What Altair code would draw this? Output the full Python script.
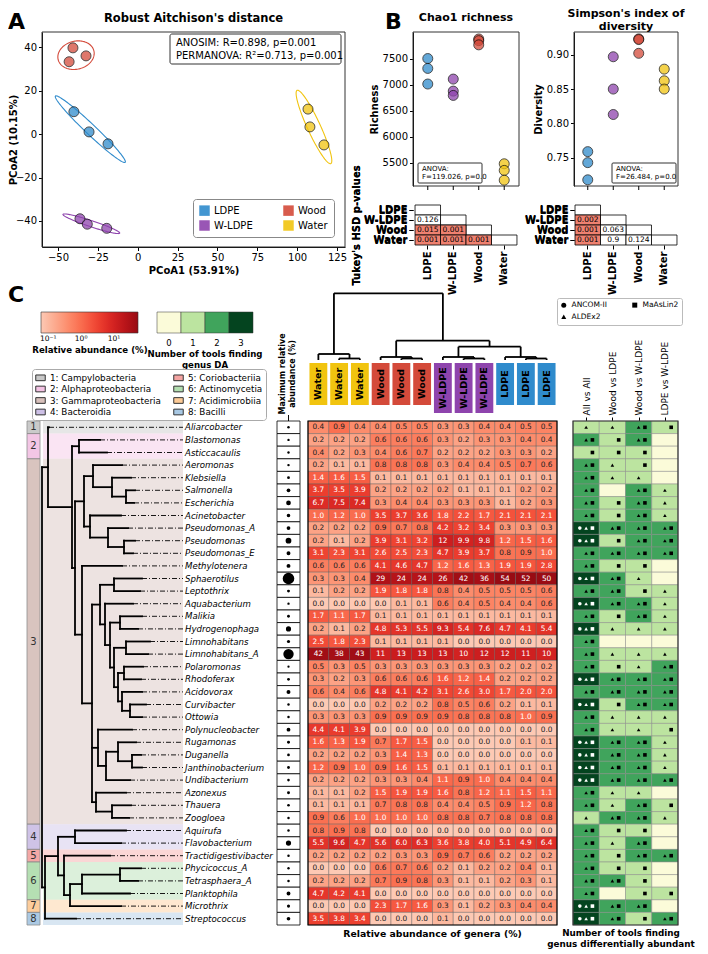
import altair as alt
import numpy as np
import pandas as pd

FONT = "DejaVu Sans"

# ======================= DATA =======================
groups = ["LDPE", "W-LDPE", "Wood", "Water"]
group_colors = ["#2f8bcc", "#8e44ad", "#d44a3a", "#f1c40f"]
sample_group = ["LDPE"] * 3 + ["W-LDPE"] * 3 + ["Wood"] * 3 + ["Water"] * 3

# Panel A: PCoA coordinates
pcoa1 = [-40.0, -30.5, -18.6, -36.2, -31.6, -19.4, -40.6, -43.0, -32.4, 106.8, 108.0, 116.8]
pcoa2 = [10.3, 1.0, -4.5, -39.0, -41.5, -43.4, 39.7, 33.3, 36.0, 11.5, 3.3, -5.0]

# Panel B: alpha diversity
chao1 = [7500, 7310, 7010, 7105, 6874, 6791, 7876, 7844, 7763, 5477, 5350, 5162]
simpson = [0.759, 0.743, 0.718, 0.897, 0.850, 0.813, 0.923, 0.922, 0.902, 0.879, 0.862, 0.850]
tukey_row = ["W-LDPE", "Wood", "Wood", "Water", "Water", "Water"]
tukey_col = ["LDPE", "LDPE", "W-LDPE", "LDPE", "W-LDPE", "Wood"]
tukey_chao = ["0.126", "0.015", "0.001", "0.001", "0.001", "0.001"]
tukey_simpson = ["0.002", "0.001", "0.063", "0.001", "0.9", "0.124"]

# Panel C
genera = ["Aliarcobacter", "Blastomonas", "Asticcacaulis", "Aeromonas", "Klebsiella", "Salmonella",
          "Escherichia", "Acinetobacter", "Pseudomonas_A", "Pseudomonas", "Pseudomonas_E",
          "Methylotenera", "Sphaerotilus", "Leptothrix", "Aquabacterium", "Malikia", "Hydrogenophaga",
          "Limnohabitans", "Limnohabitans_A", "Polaromonas", "Rhodoferax", "Acidovorax", "Curvibacter",
          "Ottowia", "Polynucleobacter", "Rugamonas", "Duganella", "Janthinobacterium", "Undibacterium",
          "Azonexus", "Thauera", "Zoogloea", "Aquirufa", "Flavobacterium", "Tractidigestivibacter",
          "Phycicoccus_A", "Tetrasphaera_A", "Planktophila", "Microthrix", "Streptococcus"]
samples = ["Water"] * 3 + ["Wood"] * 3 + ["W-LDPE"] * 3 + ["LDPE"] * 3
abundance = [
    [0.4, 0.9, 0.4, 0.4, 0.5, 0.5, 0.3, 0.3, 0.4, 0.4, 0.5, 0.5],
    [0.2, 0.2, 0.2, 0.6, 0.6, 0.6, 0.3, 0.2, 0.3, 0.3, 0.4, 0.4],
    [0.4, 0.2, 0.3, 0.4, 0.6, 0.7, 0.2, 0.2, 0.2, 0.3, 0.3, 0.2],
    [0.2, 0.1, 0.1, 0.8, 0.8, 0.8, 0.3, 0.4, 0.4, 0.5, 0.7, 0.6],
    [1.4, 1.6, 1.5, 0.1, 0.1, 0.1, 0.1, 0.1, 0.1, 0.1, 0.1, 0.1],
    [3.7, 3.5, 3.9, 0.2, 0.2, 0.2, 0.2, 0.1, 0.1, 0.1, 0.2, 0.2],
    [6.7, 7.5, 7.4, 0.3, 0.4, 0.4, 0.3, 0.3, 0.3, 0.1, 0.2, 0.3],
    [1.0, 1.2, 1.0, 3.5, 3.7, 3.6, 1.8, 2.2, 1.7, 2.1, 2.1, 2.1],
    [0.2, 0.2, 0.2, 0.9, 0.7, 0.8, 4.2, 3.2, 3.4, 0.3, 0.3, 0.3],
    [0.2, 0.1, 0.2, 3.9, 3.1, 3.2, 12, 9.9, 9.8, 1.2, 1.5, 1.6],
    [3.1, 2.3, 3.1, 2.6, 2.5, 2.3, 4.7, 3.9, 3.7, 0.8, 0.9, 1.0],
    [0.6, 0.6, 0.6, 4.1, 4.6, 4.7, 1.2, 1.6, 1.3, 1.9, 1.9, 2.8],
    [0.3, 0.3, 0.4, 29, 24, 24, 26, 42, 36, 54, 52, 50],
    [0.1, 0.2, 0.2, 1.9, 1.8, 1.8, 0.8, 0.4, 0.5, 0.5, 0.5, 0.6],
    [0.0, 0.0, 0.0, 0.0, 0.1, 0.1, 0.6, 0.4, 0.5, 0.4, 0.4, 0.6],
    [1.7, 1.1, 1.7, 0.1, 0.1, 0.1, 0.1, 0.1, 0.1, 0.1, 0.1, 0.1],
    [0.2, 0.1, 0.2, 4.8, 5.3, 5.5, 9.3, 5.4, 7.6, 4.7, 4.1, 5.4],
    [2.5, 1.8, 2.3, 0.1, 0.1, 0.1, 0.1, 0.0, 0.0, 0.0, 0.0, 0.0],
    [42, 38, 43, 11, 13, 13, 13, 10, 12, 12, 11, 10],
    [0.5, 0.3, 0.5, 0.3, 0.3, 0.3, 0.3, 0.3, 0.3, 0.2, 0.2, 0.2],
    [0.3, 0.2, 0.3, 0.6, 0.6, 0.6, 1.6, 1.2, 1.4, 0.2, 0.2, 0.2],
    [0.6, 0.4, 0.6, 4.8, 4.1, 4.2, 3.1, 2.6, 3.0, 1.7, 2.0, 2.0],
    [0.0, 0.0, 0.0, 0.2, 0.2, 0.2, 0.8, 0.5, 0.6, 0.2, 0.1, 0.1],
    [0.3, 0.3, 0.3, 0.9, 0.9, 0.9, 0.9, 0.8, 0.8, 0.8, 1.0, 0.9],
    [4.4, 4.1, 3.9, 0.0, 0.0, 0.0, 0.0, 0.0, 0.0, 0.0, 0.0, 0.0],
    [1.6, 1.3, 1.9, 0.7, 1.7, 1.5, 0.0, 0.0, 0.0, 0.0, 0.1, 0.1],
    [0.2, 0.2, 0.2, 0.3, 1.4, 1.3, 0.0, 0.0, 0.0, 0.0, 0.0, 0.0],
    [1.2, 0.9, 1.0, 0.9, 1.6, 1.5, 0.1, 0.1, 0.1, 0.1, 0.1, 0.1],
    [0.2, 0.2, 0.2, 0.3, 0.3, 0.4, 1.1, 0.9, 1.0, 0.4, 0.4, 0.4],
    [0.1, 0.1, 0.2, 1.5, 1.9, 1.9, 1.6, 0.8, 1.2, 1.1, 1.5, 1.1],
    [0.1, 0.1, 0.1, 0.7, 0.8, 0.8, 0.4, 0.4, 0.5, 0.9, 1.2, 0.8],
    [0.9, 0.6, 1.0, 1.0, 1.0, 1.0, 0.8, 0.8, 0.7, 0.8, 0.8, 0.8],
    [0.8, 0.9, 0.8, 0.0, 0.0, 0.0, 0.0, 0.0, 0.0, 0.0, 0.0, 0.0],
    [5.5, 9.6, 4.7, 5.6, 6.0, 6.3, 3.6, 3.8, 4.0, 5.1, 4.9, 6.4],
    [0.2, 0.2, 0.2, 0.2, 0.3, 0.3, 0.9, 0.7, 0.6, 0.2, 0.2, 0.2],
    [0.0, 0.0, 0.0, 0.6, 0.7, 0.6, 0.2, 0.1, 0.2, 0.2, 0.4, 0.1],
    [0.2, 0.2, 0.2, 0.7, 0.9, 0.8, 0.3, 0.1, 0.1, 0.2, 0.3, 0.1],
    [4.7, 4.2, 4.1, 0.0, 0.0, 0.0, 0.0, 0.0, 0.0, 0.0, 0.0, 0.0],
    [0.0, 0.0, 0.0, 2.3, 1.7, 1.6, 0.3, 0.1, 0.2, 0.3, 0.4, 0.4],
    [3.5, 3.8, 3.4, 0.0, 0.0, 0.0, 0.1, 0.0, 0.0, 0.0, 0.0, 0.0],
]
comparisons = ["All vs All", "Wood vs LDPE", "Wood vs W-LDPE", "LDPE vs W-LDPE"]
# c = ANCOM-II, t = ALDEx2, s = MaAsLin2
da_tools = [
    ["t", "t", "ts", "s"], ["ts", "s", "ts", ""], ["s", "s", "s", ""], ["ts", "t", "s", ""],
    ["ts", "t", "t", ""], ["ts", "", "ts", "t"], ["ts", "s", "ts", "t"], ["ts", "s", "ts", "t"],
    ["cts", "ts", "ts", "ts"], ["cts", "s", "ts", "ts"], ["ts", "ts", "ts", "ts"], ["ts", "s", "s", ""],
    ["cts", "ts", "t", ""], ["ts", "ts", "s", "t"], ["cts", "ts", "ts", "t"], ["ts", "s", "ts", "t"],
    ["cts", "t", "t", "t"], ["ts", "", "", ""], ["ts", "t", "t", "t"], ["ts", "s", "t", "ts"],
    ["cts", "ts", "ts", "ts"], ["ts", "ts", "ts", "ts"], ["cts", "s", "ts", "ts"], ["ts", "t", "t", "t"],
    ["ts", "t", "t", "s"], ["cts", "ts", "ts", "t"], ["cts", "ts", "ts", "t"], ["cts", "ts", "ts", "t"],
    ["cts", "ts", "ts", "ts"], ["ts", "t", "t", ""], ["ts", "t", "ts", "s"], ["t", "ts", "ts", "t"],
    ["ts", "s", "s", ""], ["ts", "t", "ts", ""], ["ts", "s", "ts", "ts"], ["ts", "s", "s", ""],
    ["ts", "ts", "s", ""], ["ts", "", "s", "s"], ["cts", "ts", "ts", ""], ["cts", "ts", "s", "ts"],
]
class_names = ["Campylobacteria", "Alphaproteobacteria", "Gammaproteobacteria", "Bacteroidia",
               "Coriobacteriia", "Actinomycetia", "Acidimicrobiia", "Bacilli"]
class_colors = ["#c8c8c8", "#f3c3e4", "#d8c1bc", "#cdc0e6", "#f4a4a2", "#b2deaf", "#fdcb97", "#a8c8e3"]
class_first_row = [0, 1, 3, 32, 34, 35, 38, 39]
class_n_rows = [1, 2, 29, 2, 1, 3, 1, 1]
# phylogeny: [node depth, children] or [leaf depth, genus]
TREE = [42, [
    [48, [
        [49, "Aliarcobacter"],
        [72, [
            [79, [[100, "Blastomonas"], [107, "Asticcacaulis"]]],
            [75, [
                [84, [
                    [93, [[122, "Aeromonas"], [112, [[131, "Klebsiella"], [126, [[135, "Salmonella"], [134, "Escherichia"]]]]]]],
                    [90, [[121, "Acinetobacter"], [108, [[128, "Pseudomonas_A"], [124, [[135, "Pseudomonas"], [133, "Pseudomonas_E"]]]]]]],
                ]],
                [82, [
                    [122, "Methylotenera"],
                    [92, [
                        [100, [
                            [114, [[142, "Sphaerotilus"], [140, "Leptothrix"]]],
                            [105, [
                                [133, "Aquabacterium"],
                                [110, [
                                    [120, [[142, "Malikia"], [138, "Hydrogenophaga"]]],
                                    [114, [
                                        [126, [[150, "Limnohabitans"], [148, "Limnohabitans_A"]]],
                                        [118, [
                                            [124, [[143, "Polaromonas"], [141, "Rhodoferax"]]],
                                            [122, [[142, "Acidovorax"], [130, [[146, "Curvibacter"], [142, "Ottowia"]]]]],
                                        ]],
                                    ]],
                                ]],
                            ]],
                        ]],
                        [98, [
                            [132, "Polynucleobacter"],
                            [106, [
                                [118, [[136, "Rugamonas"], [132, [[141, "Duganella"], [142, "Janthinobacterium"]]]]],
                                [130, "Undibacterium"],
                            ]],
                        ]],
                        [96, [[126, "Azonexus"], [112, [[131, "Thauera"], [129, "Zoogloea"]]]]],
                    ]],
                ]],
            ]],
        ]],
    ]],
    [45, [
        [58, [
            [75, [[126, "Aquirufa"], [121, "Flavobacterium"]]],
            [64, [
                [110, "Tractidigestivibacter"],
                [70, [
                    [82, [[120, [[141, "Phycicoccus_A"], [138, "Tetrasphaera_A"]]], [130, "Planktophila"]]],
                    [121, "Microthrix"],
                ]],
            ]],
        ]],
        [76, "Streptococcus"],
    ]],
]]
# sample dendrogram: (left node, right node, merge height)
dendro = [(1, 2, 1.5), (0, 12, 6.0), (4, 5, 1.5), (3, 14, 3.0), (7, 8, 1.5), (6, 16, 3.0),
          (10, 11, 1.5), (9, 18, 3.0), (17, 19, 13.3), (15, 20, 19.3), (13, 21, 66.7)]
green_colors = ["#fbfbd9", "#bce4a0", "#40a45c", "#04441f"]

# ======================= HELPERS =======================
ONE = pd.DataFrame({"k": [0]})
cA = alt.Scale(domain=groups, range=group_colors)


def vrect(x, x2, y, y2, **kw):
    return alt.Chart(ONE).mark_rect(**kw).encode(
        x=alt.value(x), x2=alt.value(x2), y=alt.value(y), y2=alt.value(y2))


def vtext(x, y, s, **kw):
    return alt.Chart(pd.DataFrame({"s": [s]})).mark_text(**kw).encode(
        x=alt.value(x), y=alt.value(y), text="s:N")


ORIG_Y = 31  # page y of the top plots

# ======================= PANEL A =======================
A_W, A_VIEW_W = 303, 316
A_H = 246 - ORIG_Y
dfA = pd.DataFrame({"group": sample_group, "x": pcoa1, "y": pcoa2})
N_STD = 2.05
tt = np.linspace(0, 2 * np.pi, 121)
ell_rows = []
for g in groups:
    sub = dfA[dfA.group == g]
    xs, ys = sub.x.to_numpy(), sub.y.to_numpy()
    vals, vecs = np.linalg.eigh(np.cov(xs, ys))
    vals = np.clip(vals, 1e-6, None)
    pts = vecs @ (np.sqrt(vals)[:, None] * np.vstack([np.cos(tt), np.sin(tt)])) * N_STD
    for k in range(len(tt)):
        ell_rows.append({"group": g, "x": xs.mean() + pts[0, k], "y": ys.mean() + pts[1, k], "o": k})
dfE = pd.DataFrame(ell_rows)

xA = alt.Scale(domain=[-60, 130], range=[0, A_W], nice=False, zero=False)
yA = alt.Scale(domain=[-52, 47], nice=False, zero=False)
axXA = alt.Axis(values=[-50, -25, 0, 25, 50, 75, 100, 125], title="PCoA1 (53.91%)", grid=False,
                tickSize=3.5, labelFontSize=10, titleFontSize=10, titleFontWeight="bold", titlePadding=3)
axYA = alt.Axis(values=[-40, -20, 0, 20, 40], title="PCoA2 (10.15%)", grid=False, tickSize=3.5,
                labelFontSize=10, titleFontSize=10, titleFontWeight="bold", titleX=-24, labelPadding=2)
legA = alt.Legend(orient="none", legendX=151, legendY=198 - ORIG_Y, columns=2, title=None,
                  symbolType="square", symbolSize=110, symbolStrokeWidth=0, labelFontSize=10, columnPadding=30,
                  rowPadding=4, padding=6, strokeColor="#888", fillColor="white", cornerRadius=3,
                  symbolOpacity=0.9)

ellA = alt.Chart(dfE).mark_line(strokeWidth=1.1).encode(
    x=alt.X("x:Q", scale=xA, axis=axXA), y=alt.Y("y:Q", scale=yA, axis=axYA),
    color=alt.Color("group:N", scale=cA, legend=legA), detail="group:N", order="o:Q")
ptsA = alt.Chart(dfA).mark_circle(size=100, opacity=0.75, stroke="black", strokeWidth=0.9).encode(
    x=alt.X("x:Q", scale=xA, axis=axXA), y=alt.Y("y:Q", scale=yA, axis=axYA),
    color=alt.Color("group:N", scale=cA, legend=legA))
panelA = alt.layer(
    vrect(0, A_W, 0, A_H, fillOpacity=0, stroke="#333", strokeWidth=1),
    ellA, ptsA,
    vrect(128, 299, 2, 32, fill="white", stroke="#333", strokeWidth=1, cornerRadius=2),
    vtext(134, 10.5, "ANOSIM: R=0.898, p=0.001", align="left", baseline="middle", fontSize=10),
    vtext(134, 24, "PERMANOVA: R\u00b2=0.713, p=0.001", align="left", baseline="middle", fontSize=10),
    vtext(A_W / 2, 18 - ORIG_Y, "Robust Aitchison's distance", baseline="middle", fontSize=11.5,
          fontWeight="bold"),
    vtext(-34, 28 - ORIG_Y, "A", align="left", baseline="alphabetic", fontSize=22, fontWeight="bold"),
).properties(width=A_VIEW_W, height=A_H)


# ======================= PANEL B =======================
def tukey_df(pvals):
    rows = [{"r": g, "c": g, "lab": "", "sig": 0} for g in groups]
    for r, c, p in zip(tukey_row, tukey_col, pvals):
        rows.append({"r": r, "c": c, "lab": p, "sig": int(float(p) < 0.05)})
    return pd.DataFrame(rows)


B_H = 185 - ORIG_Y
T0, T1 = 204 - ORIG_Y, 244 - ORIG_Y


def alpha_panel(values, width, pad_outer, ydom, yvals, yfmt, ytitle, titles, pvals,
                tukey_title, anova_x, anova_lines, letter):
    H = B_H
    xB = alt.Scale(domain=groups, paddingInner=0, paddingOuter=pad_outer)
    yB = alt.Scale(domain=ydom, nice=False, zero=False)
    yT = alt.Scale(domain=groups, range=[T0, T1], paddingInner=0, paddingOuter=0)
    axX = alt.Axis(title=None, labelAngle=270, labelFontWeight="bold", labelFontSize=10, tickSize=4,
                   domain=False, offset=T1 - H, labelPadding=2)
    axY = alt.Axis(values=yvals, format=yfmt, title=ytitle, grid=False, tickSize=3.5, labelFontSize=10,
                   titleFontSize=10, titleFontWeight="bold", orient="left", titlePadding=3)
    axT = alt.Axis(title=tukey_title, orient="left", labelFontWeight="bold", labelFontSize=10, tickSize=4,
                   domain=False, titleFontWeight="bold", titleFontSize=10, labelPadding=2, titlePadding=2)
    df = pd.DataFrame({"group": sample_group, "v": values})
    dft = tukey_df(pvals)
    ticks = alt.Chart(pd.DataFrame({"group": groups})).mark_rule(color="black").encode(
        x=alt.X("group:N", scale=xB, axis=axX), y=alt.value(H), y2=alt.value(H + 4))
    pts = alt.Chart(df).mark_circle(size=100, opacity=0.75, stroke="black", strokeWidth=0.9).encode(
        x=alt.X("group:N", scale=xB, axis=axX), y=alt.Y("v:Q", scale=yB, axis=axY),
        color=alt.Color("group:N", scale=cA, legend=None))
    trect = alt.Chart(dft).mark_rect(stroke="black", strokeWidth=0.8).encode(
        x=alt.X("c:N", scale=xB, axis=axX), y=alt.Y("r:N", scale=yT, axis=axT),
        fill=alt.condition("datum.sig == 1", alt.value("#ef8170"), alt.value("white")))
    ttext = alt.Chart(dft).mark_text(fontSize=7.5, color="black").encode(
        x=alt.X("c:N", scale=xB, axis=axX), y=alt.Y("r:N", scale=yT, axis=axT), text="lab:N")
    layers = [
        vrect(0, width, 0, H, fillOpacity=0, stroke="#333", strokeWidth=1),
        ticks, pts,
        vrect(anova_x, anova_x + 64, H - 23, H - 3, fill="white", stroke="#333", strokeWidth=1,
              cornerRadius=1),
        vtext(anova_x + 4, H - 17, anova_lines[0], align="left", baseline="middle", fontSize=7),
        vtext(anova_x + 4, H - 9, anova_lines[1], align="left", baseline="middle", fontSize=7),
        trect, ttext,
    ]
    for (ty, txt) in titles:
        layers.append(vtext(width / 2, ty - ORIG_Y, txt, baseline="middle", fontSize=11,
                            fontWeight="bold"))
    if letter:
        layers.append(vtext(385 - 413, 28 - ORIG_Y, letter, align="left", baseline="alphabetic",
                            fontSize=22, fontWeight="bold"))
    return alt.layer(*layers).resolve_scale(y="independent").properties(width=width, height=H)


chao_panel = alpha_panel(chao1, 106, 0.08, [5050, 8010], [5500, 6000, 6500, 7000, 7500], "d",
                         "Richness", [(17, "Chao1 richness")], tukey_chao, "Tukey's HSD p-values",
                         5, ["ANOVA:", "F=119.026, p=0.0"], "B")
simp_panel = alpha_panel(simpson, 104, 0.04, [0.709, 0.933], [0.75, 0.80, 0.85, 0.90], ".2f",
                         "Diversity", [(13, "Simpson's index of"), (25.5, "diversity")], tukey_simpson, "",
                         38, ["ANOVA:", "F=26.484, p=0.0"], None)

top_row = alt.hconcat(panelA, chao_panel, simp_panel, spacing=55, bounds="flush").resolve_scale(
    color="independent", x="independent", y="independent")

# ======================= PANEL C =======================
NR = len(genera)
HM_H = 504
ROWPX = HM_H / NR
ROWY = alt.Scale(domain=[0, NR], reverse=True, nice=False, zero=False)
X0 = 42  # page x of the tree view origin
Y0 = 421  # page y of the heatmap top

# ---- tree view ----
TREE_W = 269 - X0
TX = alt.Scale(domain=[X0, 269], nice=False, zero=False)
seg_rows, leaf_rows = [], []


def walk(node):
    x, kids = node
    if isinstance(kids, str):
        y = genera.index(kids) + 0.5
        leaf_rows.append({"x": x, "x2": 183, "y": y, "g": kids})
        return x, y
    pts = [walk(k) for k in kids]
    y0, y1 = pts[0][1], pts[-1][1]
    seg_rows.append({"x": x, "x2": x, "y": y0, "y2": y1})
    for cx, cy in pts:
        seg_rows.append({"x": x, "x2": cx, "y": cy, "y2": cy})
    return x, (y0 + y1) / 2


walk(TREE)
dfSeg = pd.DataFrame(seg_rows)
dfLeaf = pd.DataFrame(leaf_rows)
dfLab = pd.DataFrame({"g": genera, "ym": [i + 0.5 for i in range(NR)]})

cls_labels = [f"{i + 1}: {n}" for i, n in enumerate(class_names)]
dfCls = pd.DataFrame({
    "lab": cls_labels, "num": [str(i + 1) for i in range(8)],
    "y0": class_first_row, "y1": [a + b for a, b in zip(class_first_row, class_n_rows)],
})
dfCls["ym"] = (dfCls.y0 + dfCls.y1) / 2
cls_scale = alt.Scale(domain=cls_labels, range=class_colors)
legCls = alt.Legend(orient="none", legendX=32 - X0, legendY=369 - Y0, columns=2, title=None,
                    symbolType="M-1,-0.6L1,-0.6L1,0.6L-1,0.6Z", symbolSize=90, symbolStrokeColor="#333",
                    symbolStrokeWidth=1, symbolOpacity=1, labelFontSize=8.8, rowPadding=0.5,
                    columnPadding=10, padding=3, strokeColor="#aaa", fillColor="white", cornerRadius=3)

bands = alt.Chart(dfCls).mark_rect(opacity=0.45).encode(
    x=alt.value(43 - X0), x2=alt.value(183 - X0), y=alt.Y("y0:Q", scale=ROWY, axis=None), y2="y1:Q",
    fill=alt.Fill("lab:N", scale=cls_scale, legend=legCls))
cboxes = alt.Chart(dfCls).mark_rect(stroke="#888", strokeWidth=0.8, opacity=0.95).encode(
    x=alt.value(27 - X0), x2=alt.value(40 - X0), y=alt.Y("y0:Q", scale=ROWY, axis=None), y2="y1:Q",
    fill=alt.Fill("lab:N", scale=cls_scale, legend=legCls))
cnums = alt.Chart(dfCls).mark_text(fontSize=10, color="#333").encode(
    x=alt.value(33.5 - X0), y=alt.Y("ym:Q", scale=ROWY, axis=None), text="num:N")
tsegs = alt.Chart(dfSeg).mark_rule(strokeWidth=1.8, color="black", strokeCap="square").encode(
    x=alt.X("x:Q", scale=TX, axis=None), x2="x2:Q", y=alt.Y("y:Q", scale=ROWY, axis=None), y2="y2:Q")
tdash = alt.Chart(dfLeaf).mark_rule(strokeWidth=0.9, color="black", strokeDash=[5, 2, 1, 2]).encode(
    x=alt.X("x:Q", scale=TX, axis=None), x2="x2:Q", y=alt.Y("y:Q", scale=ROWY, axis=None))
tlabs = alt.Chart(dfLab).mark_text(align="left", baseline="middle", fontStyle="italic", fontSize=8.6).encode(
    x=alt.value(185 - X0), y=alt.Y("ym:Q", scale=ROWY, axis=None), text="g:N")

dfG = pd.DataFrame({"k": [0, 1, 2, 3]})
dfG["x0"] = 157 + 24 * dfG.k
dfG["x1"] = dfG.x0 + 24
dfG["xm"] = dfG.x0 + 12
dfG["t"] = dfG.k.astype(str)
gcb = alt.Chart(dfG).mark_rect(stroke="#333", strokeWidth=0.5).encode(
    x=alt.X("x0:Q", scale=TX, axis=None), x2="x1:Q", y=alt.value(312 - Y0), y2=alt.value(333 - Y0),
    color=alt.Color("k:O", scale=alt.Scale(domain=[0, 1, 2, 3], range=green_colors), legend=None))
gcbt = alt.Chart(dfG).mark_text(fontSize=8.5).encode(
    x=alt.X("xm:Q", scale=TX, axis=None), y=alt.value(343 - Y0), text="t:N")

tree_view = alt.layer(
    bands, cboxes, cnums, tsegs, tdash, tlabs, gcb, gcbt,
    vtext(205 - X0, 354 - Y0, "Number of tools finding", fontSize=8.6, fontWeight="bold"),
    vtext(205 - X0, 364.5 - Y0, "genus DA", fontSize=8.6, fontWeight="bold"),
    vtext(8 - X0, 302 - Y0, "C", align="left", baseline="alphabetic", fontSize=22, fontWeight="bold"),
).properties(width=TREE_W, height=HM_H)

# ---- max abundance view ----
dfMax = pd.DataFrame({"g": genera, "r0": range(NR), "mx": [max(r) for r in abundance]})
dfMax["r1"] = dfMax.r0 + 1
dfMax["rm"] = dfMax.r0 + 0.5
maxcells = alt.Chart(dfMax).mark_rect(fill="white", stroke="black", strokeWidth=0.8).encode(
    x=alt.value(0), x2=alt.value(23), y=alt.Y("r0:Q", scale=ROWY, axis=None), y2="r1:Q")
maxdots = alt.Chart(dfMax).mark_circle(color="black", opacity=1).encode(
    x=alt.value(11.5), y=alt.Y("rm:Q", scale=ROWY, axis=None),
    size=alt.Size("mx:Q", scale=alt.Scale(domain=[0, 54], range=[4, 135]), legend=None))
max_view = alt.layer(
    maxcells, maxdots,
    vrect(11.5, 11.5, -6, 0, stroke="black", strokeWidth=0.8),
    vtext(6, 374 - Y0, "Maximum relative", angle=270, fontSize=8, fontWeight="bold"),
    vtext(15.5, 374 - Y0, "abundance (%)", angle=270, fontSize=8, fontWeight="bold"),
).properties(width=23, height=HM_H)

# ---- relative abundance heatmap ----
RX = alt.Scale(domain=[0, 12], nice=False, zero=False)
hm_rows = []
for i, row in enumerate(abundance):
    for j, v in enumerate(row):
        hm_rows.append({"g": genera[i], "r0": i, "r1": i + 1, "rm": i + 0.5, "c0": j, "c1": j + 1,
                        "cm": j + 0.5, "v": v, "vc": max(v, 0.06),
                        "lab": str(int(round(v))) if v >= 10 else f"{v:.1f}"})
dfHM = pd.DataFrame(hm_rows)
legRed = alt.Legend(orient="none", legendX=32 - 308, legendY=312 - Y0, direction="horizontal",
                    gradientLength=97, gradientThickness=21, values=[0.1, 1, 10],
                    labelExpr="datum.value < 0.5 ? '10\u207b\u00b9' : datum.value < 5 ? '10\u2070' : '10\u00b9'",
                    title="Relative abundance (%)", titleOrient="bottom", titleFontWeight="bold",
                    titleFontSize=8.6, titleAnchor="middle", labelFontSize=7.5, gradientStrokeColor="#333",
                    gradientStrokeWidth=0.6, titlePadding=3, padding=0)
hm = alt.Chart(dfHM).mark_rect(stroke="#555", strokeWidth=0.4).encode(
    x=alt.X("c0:Q", scale=RX, axis=None), x2="c1:Q", y=alt.Y("r0:Q", scale=ROWY, axis=None), y2="r1:Q",
    color=alt.Color("vc:Q", scale=alt.Scale(type="log", domain=[0.06, 54], scheme="reds", clamp=True),
                    legend=legRed))
hmt = alt.Chart(dfHM).mark_text(fontSize=7.4, baseline="middle").encode(
    x=alt.X("cm:Q", scale=RX, axis=None), y=alt.Y("rm:Q", scale=ROWY, axis=None), text="lab:N",
    color=alt.condition("datum.v >= 1", alt.value("white"), alt.value("#222")))
hmframe = alt.Chart(pd.DataFrame({"a": [0], "b": [12], "c": [0], "d": [NR]})).mark_rect(
    fillOpacity=0, stroke="black", strokeWidth=1.2).encode(
    x=alt.X("a:Q", scale=RX, axis=None), x2="b:Q", y=alt.Y("c:Q", scale=ROWY, axis=None), y2="d:Q")

# dendrogram segments (heights in px above the leaf tips, tips 61 px above heatmap)
node_x = {i: i + 0.5 for i in range(12)}
node_h = {i: 0.0 for i in range(12)}
den_rows = []
for k, (a, b, h) in enumerate(dendro):
    nid = 12 + k
    for ch in (a, b):
        den_rows.append({"x": node_x[ch], "x2": node_x[ch], "h0": node_h[ch], "h1": h})
    den_rows.append({"x": node_x[a], "x2": node_x[b], "h0": h, "h1": h})
    node_x[nid] = (node_x[a] + node_x[b]) / 2
    node_h[nid] = h
dfDen = pd.DataFrame(den_rows)
dfDen["y"] = -(61 + dfDen.h0) / ROWPX
dfDen["y2"] = -(61 + dfDen.h1) / ROWPX
den = alt.Chart(dfDen).mark_rule(strokeWidth=1.8, color="black").encode(
    x=alt.X("x:Q", scale=RX, axis=None), x2="x2:Q", y=alt.Y("y:Q", scale=ROWY, axis=None), y2="y2:Q")

dfHdr = pd.DataFrame({"s": samples, "j": range(12)})
dfHdr["c0"] = dfHdr.j + 0.07
dfHdr["c1"] = dfHdr.j + 0.93
dfHdr["cm"] = dfHdr.j + 0.5
dfHdr["top"] = -58 / ROWPX
dfHdr["bot"] = [(-8 if s == "W-LDPE" else -16) / ROWPX for s in samples]
dfHdr["mid"] = (dfHdr.top + dfHdr.bot) / 2
hdrbox = alt.Chart(dfHdr).mark_rect().encode(
    x=alt.X("c0:Q", scale=RX, axis=None), x2="c1:Q", y=alt.Y("top:Q", scale=ROWY, axis=None), y2="bot:Q",
    fill=alt.Fill("s:N", scale=alt.Scale(domain=groups, range=group_colors), legend=None))
hdrtxt = alt.Chart(dfHdr).mark_text(angle=270, fontSize=9.5, fontWeight="bold", color="black").encode(
    x=alt.X("cm:Q", scale=RX, axis=None), y=alt.Y("mid:Q", scale=ROWY, axis=None), text="s:N")

red_view = alt.layer(
    hm, hmt, hmframe, den, hdrbox, hdrtxt,
    vtext(124.5, HM_H + 9, "Relative abundance of genera (%)", fontSize=9.3, fontWeight="bold"),
).properties(width=249, height=HM_H)

# ---- DA tools heatmap ----
GX = alt.Scale(domain=[-8 / 26.25, 4], nice=False, zero=False)
tool_name = {"c": "ANCOM-II", "t": "ALDEx2", "s": "MaAsLin2"}
tool_slot = {"c": -1, "t": 0, "s": 1}
g_rows, m_rows = [], []
for i, row in enumerate(da_tools):
    for j, cell in enumerate(row):
        g_rows.append({"r0": i, "r1": i + 1, "c0": j, "c1": j + 1, "n": len(cell)})
        for ch in cell:
            m_rows.append({"rm": i + 0.5, "xm": j + 0.5 + 0.24 * tool_slot[ch], "tool": tool_name[ch],
                           "n": len(cell)})
dfGr = pd.DataFrame(g_rows)
dfMk = pd.DataFrame(m_rows)
axG = alt.Axis(orient="top", values=[0.5, 1.5, 2.5, 3.5], labelAngle=270, tickSize=4, domain=False,
               grid=False, labelFontSize=9, labelPadding=2, title=None,
               labelExpr="['All vs All','Wood vs LDPE','Wood vs W-LDPE','LDPE vs W-LDPE'][round(datum.value - 0.5)]")
gcells = alt.Chart(dfGr).mark_rect(stroke="#888", strokeWidth=0.5).encode(
    x=alt.X("c0:Q", scale=GX, axis=axG), x2="c1:Q", y=alt.Y("r0:Q", scale=ROWY, axis=None), y2="r1:Q",
    color=alt.Color("n:O", scale=alt.Scale(domain=[0, 1, 2, 3], range=green_colors), legend=None))
legMk = alt.Legend(orient="none", legendX=557 - 565, legendY=298 - Y0, columns=2, title=None,
                   labelFontSize=7.5, symbolFillColor="black", symbolStrokeColor="black", symbolSize=25,
                   rowPadding=0, columnPadding=22, padding=3, strokeColor="#bbb", fillColor="white",
                   cornerRadius=2)
marks = alt.Chart(dfMk).mark_point(filled=True, size=13, opacity=1).encode(
    x=alt.X("xm:Q", scale=GX, axis=axG), y=alt.Y("rm:Q", scale=ROWY, axis=None),
    shape=alt.Shape("tool:N", scale=alt.Scale(domain=["ANCOM-II", "ALDEx2", "MaAsLin2"],
                                               range=["circle", "triangle-up", "square"]), legend=legMk),
    color=alt.condition("datum.n == 3", alt.value("white"), alt.value("black")))
gframe = alt.Chart(pd.DataFrame({"a": [0], "b": [4], "c": [0], "d": [NR]})).mark_rect(
    fillOpacity=0, stroke="#333", strokeWidth=1.2).encode(
    x=alt.X("a:Q", scale=GX, axis=axG), x2="b:Q", y=alt.Y("c:Q", scale=ROWY, axis=None), y2="d:Q")
green_view = alt.layer(
    gcells, marks, gframe,
    vtext(56, HM_H + 8, "Number of tools finding", fontSize=8.8, fontWeight="bold"),
    vtext(56, HM_H + 19, "genus differentially abundant", fontSize=8.8, fontWeight="bold"),
).properties(width=113, height=HM_H)

panelC = alt.hconcat(tree_view, max_view, red_view, green_view, spacing=8, bounds="flush").resolve_scale(
    color="independent", fill="independent", x="independent", y="independent", size="independent",
    shape="independent")

chart = alt.vconcat(top_row, panelC, spacing=-11).resolve_scale(
    color="independent", fill="independent", x="independent", y="independent", size="independent",
    shape="independent").properties(padding={"left": 0, "top": 0, "right": 0, "bottom": 0}).configure(
    font=FONT).configure_view(strokeWidth=0).configure_axis(
    labelColor="black", titleColor="black", tickColor="black", domainColor="black")

chart.save("out.html", embed_options={"renderer": "svg", "actions": False})
